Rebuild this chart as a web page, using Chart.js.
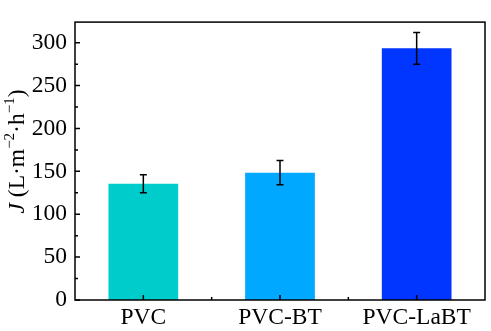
<!DOCTYPE html>
<html>
<head>
<meta charset="utf-8">
<script src="https://cdn.jsdelivr.net/npm/chart.js@4/dist/chart.umd.min.js"></script>
<style>
  html, body { margin: 0; padding: 0; background: #fff; }
  #wrap { width: 491px; height: 331px; }
</style>
</head>
<body>
<div id="wrap"><canvas id="fluxChart" width="491" height="331"></canvas></div>
<script>
// data
const categories = ['PVC', 'PVC-BT', 'PVC-LaBT'];
const fluxValues = [135.5, 148.5, 293.5];
const fluxErrors = [10.5, 14, 18.5];
const barColors = ['#00CCCC', '#00A8FF', '#0036FF'];
const yMajorTicks = [0, 50, 100, 150, 200, 250, 300];
const yMinorTicks = [25, 75, 125, 175, 225, 275];

const serif = '"Liberation Serif", "Times New Roman", serif';

// error bars + frame + inward ticks + axis title
const extras = {
  id: 'extras',
  afterDatasetsDraw(chart) {
    const ctx = chart.ctx;
    const xs = chart.scales.x, ys = chart.scales.y;
    ctx.save();
    ctx.strokeStyle = '#000';
    ctx.lineWidth = 1.5;
    fluxValues.forEach((v, i) => {
      const x = xs.getPixelForValue(i);
      const yt = ys.getPixelForValue(v + fluxErrors[i]);
      const yb = ys.getPixelForValue(v - fluxErrors[i]);
      ctx.beginPath();
      ctx.moveTo(x, yt); ctx.lineTo(x, yb);
      ctx.moveTo(x - 3.5, yt); ctx.lineTo(x + 3.5, yt);
      ctx.moveTo(x - 3.5, yb); ctx.lineTo(x + 3.5, yb);
      ctx.stroke();
    });
    ctx.restore();
  },
  afterDraw(chart) {
    const ctx = chart.ctx;
    const a = chart.chartArea;
    const xs = chart.scales.x, ys = chart.scales.y;
    ctx.save();
    ctx.strokeStyle = '#000';
    ctx.lineWidth = 1.5;
    ctx.strokeRect(a.left, a.top, a.right - a.left, a.bottom - a.top);
    ctx.beginPath();
    yMajorTicks.forEach(t => {
      const y = ys.getPixelForValue(t);
      ctx.moveTo(a.left, y); ctx.lineTo(a.left + 5, y);
    });
    yMinorTicks.forEach(t => {
      const y = ys.getPixelForValue(t);
      ctx.moveTo(a.left, y); ctx.lineTo(a.left + 3, y);
    });
    categories.forEach((c, i) => {
      const x = xs.getPixelForValue(i);
      ctx.moveTo(x, a.bottom); ctx.lineTo(x, a.bottom - 5);
      if (i > 0) {
        const xb = (x + xs.getPixelForValue(i - 1)) / 2;
        ctx.moveTo(xb, a.bottom); ctx.lineTo(xb, a.bottom - 3);
      }
    });
    ctx.stroke();

    // y title: J (L·m−2·h−1)
    ctx.translate(18, 151.5);
    ctx.rotate(-Math.PI / 2);
    ctx.fillStyle = '#000';
    ctx.textBaseline = 'middle';
    const main = '23.5px ' + serif, ital = 'italic 23.5px ' + serif, sup = '15px ' + serif;
    const parts = [
      ['J', ital, 0], [' (L\u00B7m', main, 0], ['\u22122', sup, -8],
      ['\u00B7h', main, 0], ['\u22121', sup, -8], [')', main, 0]
    ];
    let w = 0;
    parts.forEach(p => { ctx.font = p[1]; w += ctx.measureText(p[0]).width; });
    let x = -w / 2;
    parts.forEach(p => {
      ctx.font = p[1];
      ctx.fillText(p[0], x, p[2]);
      x += ctx.measureText(p[0]).width;
    });
    ctx.restore();
  }
};

new Chart(document.getElementById('fluxChart'), {
  type: 'bar',
  data: {
    labels: categories,
    datasets: [{
      data: fluxValues,
      backgroundColor: barColors,
      borderWidth: 0,
      barPercentage: 0.51,
      categoryPercentage: 1
    }]
  },
  options: {
    responsive: false,
    animation: false,
    layout: { padding: { left: 0, top: 3, right: 6, bottom: 0 } },
    plugins: { legend: { display: false }, tooltip: { enabled: false } },
    scales: {
      x: {
        grid: { display: false, drawTicks: false },
        border: { display: false },
        ticks: { color: '#000', font: { family: serif, size: 23.5 }, padding: 4 },
        afterFit(s) { s.height = 31; }
      },
      y: {
        min: 0, max: 324,
        afterBuildTicks(s) { s.ticks = yMajorTicks.map(v => ({ value: v })); },
        grid: { display: false, drawTicks: false },
        border: { display: false },
        ticks: { color: '#000', font: { family: serif, size: 23.5 }, padding: 8 },
        afterFit(s) { s.width = 75; }
      }
    }
  },
  plugins: [extras]
});
</script>
</body>
</html>
